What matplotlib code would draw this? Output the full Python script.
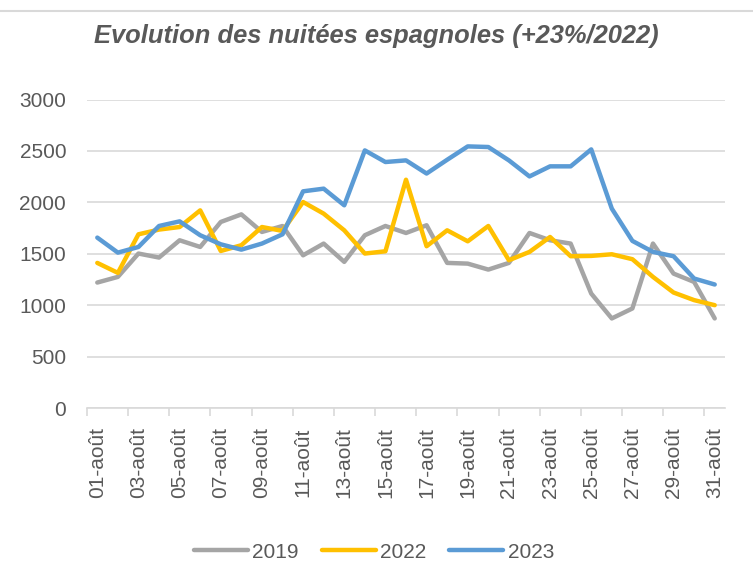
import numpy as np
import matplotlib
matplotlib.use("Agg")
import matplotlib.pyplot as plt
from matplotlib.lines import Line2D

# day of month (août)
days = list(range(1, 32))
labels = ["%02d-août" % d for d in days]

v2019 = [1220, 1275, 1502, 1463, 1631, 1566, 1809, 1883, 1712, 1770,
         1485, 1599, 1421, 1680, 1770, 1702, 1777, 1411, 1404, 1346,
         1411, 1702, 1631, 1599, 1113, 871, 968, 1599, 1307, 1226, 871]
v2022 = [1411, 1314, 1689, 1735, 1760, 1922, 1527, 1583, 1760, 1722,
         2003, 1890, 1728, 1502, 1524, 2220, 1573, 1728, 1621, 1770,
         1437, 1518, 1663, 1476, 1479, 1495, 1447, 1275, 1123, 1049, 1000]
v2023 = [1657, 1511, 1566, 1770, 1815, 1680, 1592, 1540, 1599, 1689,
         2107, 2133, 1971, 2505, 2392, 2408, 2280, 2414, 2544, 2538,
         2408, 2252, 2350, 2350, 2515, 1939, 1625, 1518, 1476, 1259, 1201]

series = [("2019", v2019, "#A5A5A5"),
          ("2022", v2022, "#FFC000"),
          ("2023", v2023, "#5B9BD5")]

txt = "#595959"
grid = "#D9D9D9"
plt.rcParams['font.family'] = ['Liberation Sans', 'DejaVu Sans']

fig = plt.figure(figsize=(7.53, 5.69), dpi=100)
ax = fig.add_axes([87/753, 1 - 408/569, (725 - 87)/753, (408 - 99.5)/569])

for name, vals, col in series:
    ax.plot(days, vals, color=col, lw=3.2, label=name,
            solid_joinstyle='round', solid_capstyle='round')

ax.set_xlim(0.5, 31.5)
ax.set_ylim(0, 3000)
ax.set_yticks(range(0, 3001, 500))
ax.yaxis.grid(True, color=grid, lw=1.2)
ax.set_axisbelow(True)
for s in ['top', 'right', 'left']:
    ax.spines[s].set_visible(False)
ax.spines['bottom'].set_color(grid)
ax.spines['bottom'].set_linewidth(1.2)

# category boundaries every 2 days, labels on odd days
ax.set_xticks(np.arange(0.5, 31.6, 2))
ax.set_xticklabels([])
ax.set_xticks(days[::2], minor=True)
ax.set_xticklabels(labels[::2], minor=True, rotation=90)
ax.tick_params(axis='x', which='major', length=6, color=grid, width=1.2, direction='out')
ax.tick_params(axis='x', which='minor', length=0, pad=14, labelsize=15, labelcolor=txt)
ax.tick_params(axis='y', length=0, pad=15, labelsize=15, labelcolor=txt)

fig.text(0.5, 1 - 36/569, "Evolution des nuitées espagnoles (+23%/2022)",
         ha='center', va='center', fontsize=18.4, fontweight='bold',
         fontstyle='italic', color=txt)
fig.add_artist(Line2D([0, 1], [1 - 10.5/569, 1 - 10.5/569], color=grid, lw=1.5))

handles = [Line2D([], [], color=c, lw=3.2, solid_capstyle='round') for _, _, c in series]
leg = fig.legend(handles, [n for n, _, _ in series], loc='center',
                 bbox_to_anchor=(374/753, 1 - 552/569), ncol=3, frameon=False,
                 fontsize=15, handlelength=2.6, handletextpad=0.2, columnspacing=1.1)
for t in leg.get_texts():
    t.set_color(txt)

fig.savefig("out.png", dpi=100)
